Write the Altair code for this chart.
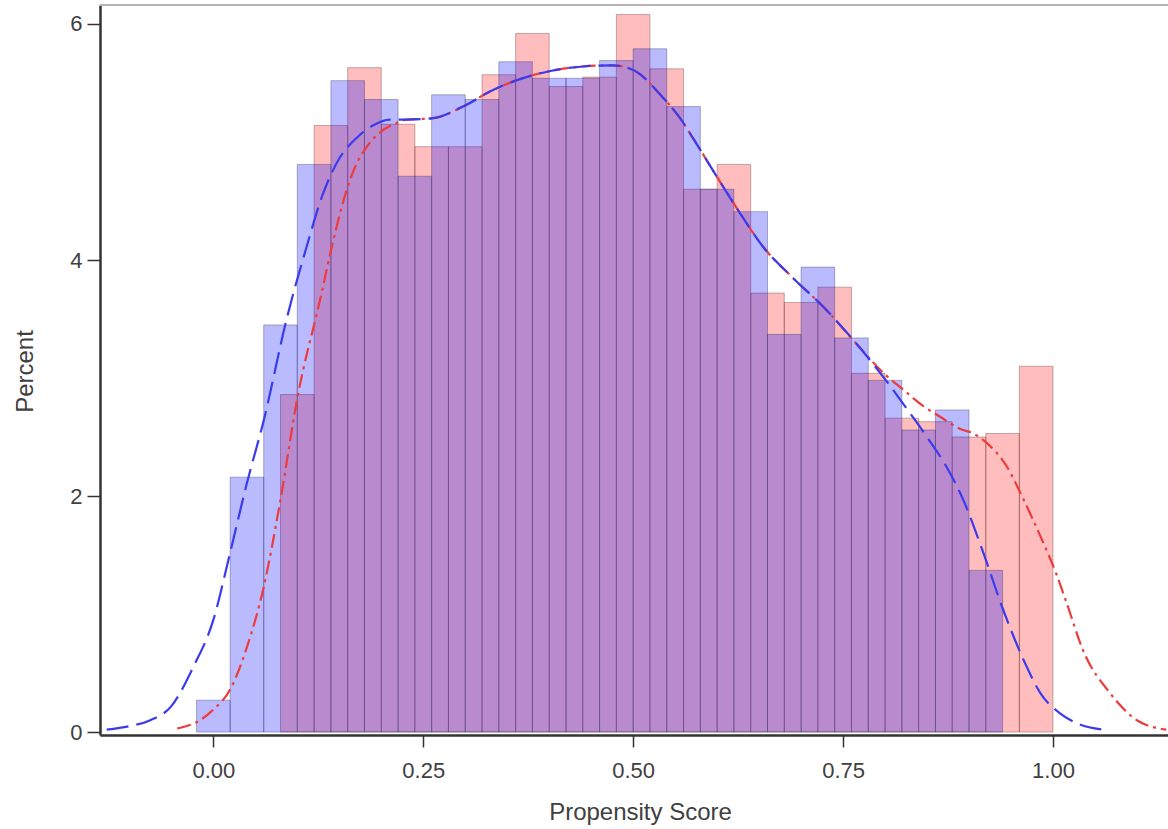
import altair as alt
import pandas as pd

# ---- histogram data (percent per bin, bin width 0.04) ----
blue_left = [-0.02, 0.02, 0.06, 0.10, 0.14, 0.18, 0.22, 0.26, 0.30, 0.34, 0.38, 0.42,
             0.46, 0.50, 0.54, 0.58, 0.62, 0.66, 0.70, 0.74, 0.78, 0.82, 0.86, 0.90]
blue_pct = [0.27, 2.16, 3.45, 4.81, 5.52, 5.36, 4.71, 5.40, 5.36, 5.68, 5.54, 5.54,
            5.69, 5.79, 5.30, 4.60, 4.41, 3.37, 3.94, 3.34, 2.98, 2.56, 2.73, 1.37]

red_left = [0.08, 0.12, 0.16, 0.20, 0.24, 0.28, 0.32, 0.36, 0.40, 0.44, 0.48, 0.52,
            0.56, 0.60, 0.64, 0.68, 0.72, 0.76, 0.80, 0.84, 0.88, 0.92, 0.96]
red_pct = [2.86, 5.14, 5.63, 5.15, 4.96, 4.96, 5.57, 5.92, 5.47, 5.55, 6.08, 5.62,
           4.60, 4.81, 3.72, 3.64, 3.77, 3.04, 2.66, 2.63, 2.50, 2.53, 3.10]

bin_width = 0.04

# ---- kernel density curves ----
blue_kx = [-0.127, -0.10, -0.075, -0.05, -0.024, 0.0, 0.02, 0.04, 0.06, 0.088, 0.111,
           0.13, 0.15, 0.17, 0.19, 0.21, 0.23, 0.26, 0.30, 0.33, 0.36, 0.40, 0.44, 0.475,
           0.50, 0.535, 0.555, 0.575, 0.595, 0.627, 0.655, 0.69, 0.727, 0.766, 0.80,
           0.83, 0.85, 0.873, 0.893, 0.917, 0.941, 0.967, 0.985, 1.008, 1.03, 1.06]
blue_ky = [0.02, 0.05, 0.10, 0.22, 0.55, 0.95, 1.52, 2.11, 2.64, 3.52, 4.11,
           4.55, 4.86, 5.03, 5.14, 5.19, 5.19, 5.20, 5.31, 5.43, 5.52, 5.60, 5.64, 5.65,
           5.61, 5.38, 5.21, 4.99, 4.76, 4.40, 4.11, 3.85, 3.60, 3.29, 2.99,
           2.70, 2.50, 2.25, 1.97, 1.52, 1.03, 0.58, 0.33, 0.16, 0.07, 0.02]

red_kx = [-0.043, -0.016, 0.0, 0.02, 0.04, 0.06, 0.08, 0.10, 0.127, 0.143, 0.151, 0.166,
          0.186, 0.202, 0.218, 0.23, 0.26, 0.30, 0.33, 0.36, 0.40, 0.44, 0.475, 0.50,
          0.535, 0.555, 0.575, 0.595, 0.627, 0.655, 0.69, 0.727, 0.766, 0.80, 0.822,
          0.846, 0.866, 0.889, 0.905, 0.921, 0.945, 0.965, 0.985, 1.004, 1.016, 1.036,
          1.068, 1.10, 1.135]
red_ky = [0.03, 0.10, 0.19, 0.36, 0.72, 1.23, 1.97, 2.83, 3.66, 4.17, 4.40, 4.74,
          4.99, 5.10, 5.16, 5.19, 5.20, 5.31, 5.43, 5.52, 5.60, 5.64, 5.65, 5.61,
          5.38, 5.21, 4.99, 4.76, 4.40, 4.11, 3.85, 3.60, 3.29, 3.03, 2.90,
          2.76, 2.67, 2.57, 2.53, 2.45, 2.25, 1.97, 1.66, 1.34, 1.10, 0.69,
          0.33, 0.10, 0.02]

x_ticks = [0.0, 0.25, 0.5, 0.75, 1.0]
y_ticks = [0, 2, 4, 6]

blue_df = pd.DataFrame({"left": blue_left, "pct": blue_pct})
blue_df["right"] = blue_df["left"] + bin_width
blue_df["base"] = 0.0
red_df = pd.DataFrame({"left": red_left, "pct": red_pct})
red_df["right"] = red_df["left"] + bin_width
red_df["base"] = 0.0
blue_k = pd.DataFrame({"x": blue_kx, "y": blue_ky})
red_k = pd.DataFrame({"x": red_kx, "y": red_ky})

FONT = "Liberation Sans"
TXT = "#404040"

xscale = alt.Scale(domain=[-0.135, 1.137], nice=False, zero=False)
yscale = alt.Scale(domain=[-0.025, 6.161], nice=False, zero=False)

xaxis = alt.Axis(values=x_ticks, format=".2f", title="Propensity Score", grid=False,
                 tickSize=12, tickWidth=1.5, tickColor="#333333", labelPadding=13,
                 labelFontSize=22, labelFont=FONT, labelColor=TXT,
                 titleFontSize=24, titleFont=FONT, titleColor=TXT, titleFontWeight="normal",
                 titleBaseline="alphabetic", titleY=84, titleX=540,
                 domainColor="#333333", domainWidth=2.5)
yaxis = alt.Axis(values=y_ticks, format="d", title="Percent", grid=False,
                 tickSize=13, tickWidth=1.5, tickColor="#333333", labelPadding=5,
                 labelFontSize=22, labelFont=FONT, labelColor=TXT,
                 titleFontSize=24, titleFont=FONT, titleColor=TXT, titleFontWeight="normal",
                 titleAngle=270, titleBaseline="middle", titleAlign="center",
                 titleX=-75, titleY=366,
                 domainColor="#333333", domainWidth=2.5)

red_bars = alt.Chart(red_df).mark_rect(
    fill="#ff0000", fillOpacity=0.26, stroke="#5a2a2a", strokeOpacity=0.35, strokeWidth=1
).encode(
    x=alt.X("left:Q", scale=xscale, axis=xaxis),
    x2="right:Q",
    y=alt.Y("pct:Q", scale=yscale, axis=yaxis),
    y2="base:Q",
)

blue_bars = alt.Chart(blue_df).mark_rect(
    fill="#0000ff", fillOpacity=0.27, stroke="#2a2a5a", strokeOpacity=0.35, strokeWidth=1
).encode(
    x=alt.X("left:Q", scale=xscale),
    x2="right:Q",
    y=alt.Y("pct:Q", scale=yscale),
    y2="base:Q",
)

red_line = alt.Chart(red_k).mark_line(
    color="#ee3b3b", strokeWidth=2.2, strokeDash=[14, 5, 3, 5], interpolate="monotone"
).encode(x=alt.X("x:Q", scale=xscale), y=alt.Y("y:Q", scale=yscale))

blue_line = alt.Chart(blue_k).mark_line(
    color="#3b3bee", strokeWidth=2.2, strokeDash=[22, 8], interpolate="monotone"
).encode(x=alt.X("x:Q", scale=xscale), y=alt.Y("y:Q", scale=yscale))

top_border = alt.Chart(pd.DataFrame({"a": [0]})).mark_rule(
    color="#b5b5b5", strokeWidth=2
).encode(y=alt.value(0), x=alt.value(0), x2=alt.value(1068))

chart = alt.layer(red_bars, blue_bars, red_line, blue_line, top_border).properties(
    width=1068, height=730,
    autosize=alt.AutoSizeParams(type="none"),
    padding={"left": 100, "top": 5, "right": 0, "bottom": 94},
    background="white",
).configure_view(stroke=None)

chart.save("out.html", embed_options={"renderer": "svg", "actions": False})
